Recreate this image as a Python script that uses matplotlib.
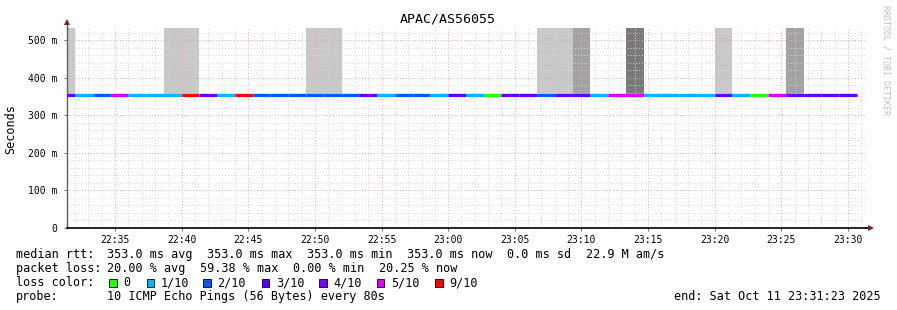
import matplotlib
matplotlib.use("Agg")
import matplotlib.pyplot as plt
from matplotlib.lines import Line2D
from matplotlib.patches import Rectangle

# ---------------- data ----------------
title = "APAC/AS56055"
window_start_min = 31 + 23 / 60      # 22:31:23 as minutes after 22:00
window_end_min = 91 + 23 / 60        # 23:31:23
first_boundary_min = 32.0            # 22:32:00
step_min = 80 / 60                   # 80 s steps

# loss per 80 s step (tenths)
loss_tenths = [3, 1, 2, 5, 1, 1, 1, 9, 3, 1,
               9, 2, 2, 2, 2, 2, 2, 3, 1, 2,
               2, 1, 3, 1, 0, 3, 3, 2, 3, 3,
               1, 5, 5, 1, 1, 1, 1, 3, 1, 0,
               5, 3, 3, 3, 3]
median_ms = [353.0, 353.0, 353.0, 353.0, 353.0, 353.0, 353.0, 353.0, 353.0, 353.0,
             353.0, 353.0, 353.0, 353.0, 353.0, 353.0, 353.0, 353.0, 353.0, 353.0,
             353.0, 353.0, 353.0, 353.0, 353.0, 353.0, 353.0, 353.0, 353.0, 353.0,
             353.0, 353.0, 353.0, 353.0, 353.0, 353.0, 353.0, 353.0, 353.0, 353.0,
             353.0, 353.0, 353.0, 353.0, 353.0]
smoke_top_ms = [532, 353, 353, 353, 353, 353, 532, 532, 353, 353,
                357, 353, 353, 353, 532, 532, 353, 356, 353, 353,
                353, 356, 356, 353, 353, 353, 353, 532, 532, 532,
                353, 353, 532, 353, 353, 353, 353, 532, 353, 353,
                353, 532, 353, 353, 353]
smoke_level = [1, 0, 0, 0, 0, 0, 1, 1, 0, 0,
               3, 0, 0, 0, 1, 1, 0, 2, 0, 0,
               0, 1, 1, 0, 0, 0, 0, 1, 1, 2,
               0, 0, 3, 0, 0, 0, 0, 1, 0, 0,
               0, 2, 0, 0, 0]

loss_legend = [0, 1, 2, 3, 4, 5, 9]
loss_legend_labels = ["0", "1/10", "2/10", "3/10", "4/10", "5/10", "9/10"]

x_tick_min = [35, 40, 45, 50, 55, 60, 65, 70, 75, 80, 85, 90]
x_tick_labels = ["22:35", "22:40", "22:45", "22:50", "22:55", "23:00",
                 "23:05", "23:10", "23:15", "23:20", "23:25", "23:30"]
y_tick_ms = [0, 100, 200, 300, 400, 500]
y_tick_labels = ["0", "100 m", "200 m", "300 m", "400 m", "500 m"]
y_max_ms = 532

row1 = [("median rtt:", 16), ("353.0 ms avg", 107.3), ("353.0 ms max", 207.3),
        ("353.0 ms min", 307), ("353.0 ms now", 406.7), ("0.0 ms sd", 506.7),
        ("22.9 M am/s", 586)]
row2 = [("packet loss:", 16), ("20.00 % avg", 107.3), ("59.38 % max", 200),
        ("0.00 % min", 293), ("20.25 % now", 379.3)]
row4 = [("probe:", 16), ("10 ICMP Echo Pings (56 Bytes) every 80s", 107.3)]
end_text = "end: Sat Oct 11 23:31:23 2025"

# ---------------- style ----------------
loss_colors = {0: "#26ff00", 1: "#00b8ff", 2: "#0059ff", 3: "#5e00ff",
               4: "#7e00ff", 5: "#dd00ff", 9: "#ff0000"}
smoke_colors = {1: "#c8c8c8", 2: "#a2a2a2", 3: "#7a7a7a"}
MONO = "DejaVu Sans Mono"
W, H = 897, 310

fig = plt.figure(figsize=(W / 100, H / 100), dpi=100)
fig.patch.set_facecolor("white")
x0, x1, ytop, ybot = 66.8, 866.4, 28, 228
ax = fig.add_axes([x0 / W, 1 - ybot / H, (x1 - x0) / W, (ybot - ytop) / H])
ax.set_xlim(window_start_min, window_end_min)
ax.set_ylim(0, y_max_ms)

n = len(loss_tenths)
ends = [first_boundary_min + k * step_min for k in range(n)]
starts = [window_start_min] + ends[:-1]

# smoke
for s, e, med, top, lvl in zip(starts, ends, median_ms, smoke_top_ms, smoke_level):
    if lvl > 0 and top > med:
        ax.bar(s, top - med, width=e - s, bottom=med, align="edge",
               color=smoke_colors[lvl], linewidth=0, zorder=1)

# grid
dot = (0, (1, 2))
for m in range(32, 92):
    major = (m % 5 == 0)
    ax.axvline(m, color="#ffa0a0" if major else "#d6d6d6", lw=0.7,
               ls=dot, zorder=2)
for v in range(20, 540, 20):
    major = (v % 100 == 0)
    ax.axhline(v, color="#e4a8a8" if major else "#d6d6d6", lw=0.7,
               ls=dot, zorder=2)

# median line coloured by loss
ax.hlines(median_ms, starts, ends, colors=[loss_colors[l] for l in loss_tenths],
          linewidth=2.3, zorder=3)

# axes styling
for sp in ("top", "right"):
    ax.spines[sp].set_visible(False)
ax.spines["left"].set_color("#606060")
ax.spines["left"].set_linewidth(1.0)
ax.spines["bottom"].set_color("black")
ax.spines["bottom"].set_linewidth(1.2)
ax.set_xticks(x_tick_min)
ax.set_xticklabels(x_tick_labels, fontfamily=MONO, fontsize=7)
ax.set_yticks(y_tick_ms)
ax.set_yticklabels(y_tick_labels, fontfamily=MONO, fontsize=7)
ax.tick_params(axis="both", length=2, width=0.6, color="#606060", pad=3)
ax.tick_params(axis="y", pad=5)

def fx(px):
    return px / W

def fy(py):
    return 1 - py / H

# axis extensions and arrows
fig.add_artist(Line2D([fx(866), fx(869)], [fy(228), fy(228)], color="black", lw=1.2))
fig.add_artist(Line2D([fx(66.8), fx(66.8)], [fy(28), fy(24)], color="#606060", lw=1.0))
fig.add_artist(Line2D([fx(871)], [fy(228)], marker=">", color="#7f1f1f",
                      markersize=4, markeredgewidth=0))
fig.add_artist(Line2D([fx(66.8)], [fy(22)], marker="^", color="#7f1f1f",
                      markersize=4, markeredgewidth=0))

# texts
fig.text(fx(448), fy(19.5), title, fontfamily=MONO, fontsize=9.5,
         ha="center", va="center")
fig.text(fx(11), fy(129), "Seconds", fontfamily=MONO, fontsize=8.5,
         rotation=90, ha="center", va="center")
fig.text(fx(886), fy(5), "RRDTOOL / TOBI OETIKER", fontfamily=MONO, fontsize=6,
         rotation=270, ha="center", va="top", color="#c0c0c0")

FS = 8.5
for txt, px in row1:
    fig.text(fx(px), fy(254.3), txt, fontfamily=MONO, fontsize=FS, va="center")
for txt, px in row2:
    fig.text(fx(px), fy(268.3), txt, fontfamily=MONO, fontsize=FS, va="center")
fig.text(fx(16), fy(282.5), "loss color:", fontfamily=MONO, fontsize=FS, va="center")
sq_x = [109, 146.7, 203, 261.7, 319, 376.7, 435]
for lvl, lab, px in zip(loss_legend, loss_legend_labels, sq_x):
    fig.add_artist(Rectangle((fx(px), fy(286.5)), 7.5 / W, 7.5 / H,
                             transform=fig.transFigure, facecolor=loss_colors[lvl],
                             edgecolor="black", linewidth=0.6))
    fig.text(fx(px + 14), fy(282.5), lab, fontfamily=MONO, fontsize=FS, va="center")
for txt, px in row4:
    fig.text(fx(px), fy(296.3), txt, fontfamily=MONO, fontsize=FS, va="center")
fig.text(fx(880.5), fy(296.3), end_text, fontfamily=MONO, fontsize=FS,
         va="center", ha="right")

fig.savefig("out.png", dpi=100, facecolor="white")
